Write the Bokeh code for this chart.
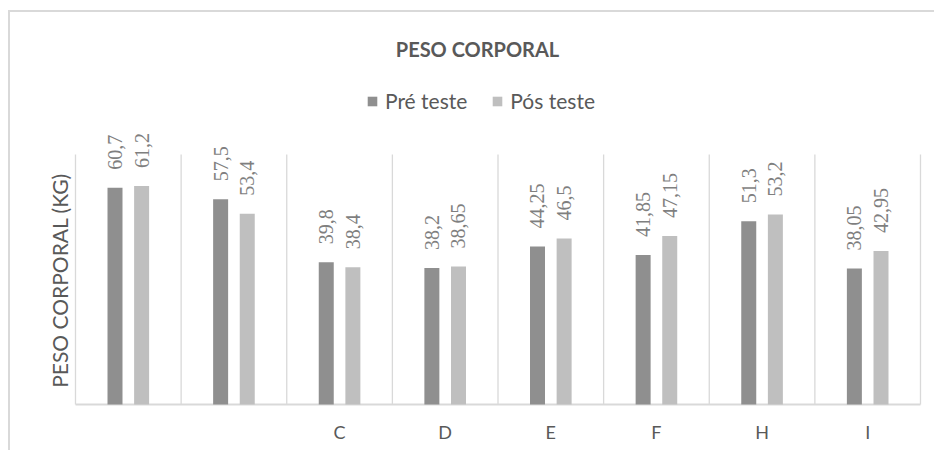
import numpy as np
from bokeh.plotting import figure
from bokeh.models import ColumnDataSource, FixedTicker, LabelSet, Label, Legend, LegendItem, Range1d
from bokeh.embed import file_html
from bokeh.resources import INLINE

# ---- data ----
categories = ["A", "B", "C", "D", "E", "F", "H", "I"]
tick_labels = ["", "", "C", "D", "E", "F", "H", "I"]
pre_teste = [60.7, 57.5, 39.8, 38.2, 44.25, 41.85, 51.3, 38.05]
pos_teste = [61.2, 53.4, 38.4, 38.65, 46.5, 47.15, 53.2, 42.95]
series_names = ["Pré teste", "Pós teste"]
title_text = "PESO CORPORAL"
y_title = "PESO CORPORAL (KG)"
y_max = 70

FONT = "Lato"
C_PRE = "#8f8f8f"
C_POS = "#bfbfbf"
C_TEXT = "#595959"
C_LABEL = "#7f7f7f"
C_GRID = "#d9d9d9"

# ---- layout (pixels) ----
W, H = 926, 440          # canvas size (after 8/10px page offset + 2px border)
BOTTOM = 46              # space for category labels
PLOT_L, PLOT_R = 65, 910 # value-area edges inside the canvas
PLOT_H = 250             # value-area height (0..y_max)
n = len(categories)
ppx = (PLOT_R - PLOT_L) / n
ppy = PLOT_H / y_max
frame_h = H - BOTTOM
x0 = -PLOT_L / ppx
x1 = n + (W - PLOT_R) / ppx
y0 = -2 / ppy
y1 = y0 + frame_h / ppy

centers = np.arange(n) + 0.5
off = 0.126
bw = 0.142

def fmt(v):
    return ("%g" % v).replace(".", ",")

src = ColumnDataSource(dict(
    x_pre=centers - off, x_pos=centers + off,
    pre=pre_teste, pos=pos_teste,
    pre_lab=[fmt(v) for v in pre_teste], pos_lab=[fmt(v) for v in pos_teste],
))

p = figure(width=W, height=H, output_backend="svg", toolbar_location=None,
           x_range=Range1d(x0, x1), y_range=Range1d(y0, y1),
           min_border_left=0, min_border_right=0, min_border_top=0, min_border_bottom=BOTTOM)
p.margin = (10, 0, 0, 8)
p.styles = {"border-top": "2px solid #d9d9d9", "border-left": "2px solid #d9d9d9"}
p.outline_line_color = None
p.background_fill_color = "white"
p.border_fill_color = "white"
p.xgrid.grid_line_color = None
p.ygrid.grid_line_color = None

# vertical grid at category boundaries, baseline
bounds = np.arange(n + 1)
p.segment(x0=bounds, x1=bounds, y0=[0] * (n + 1), y1=[y_max] * (n + 1),
          line_color=C_GRID, line_width=1.3)
p.segment(x0=[0], x1=[n], y0=[0], y1=[0], line_color=C_GRID, line_width=2)

r_pre = p.vbar(x="x_pre", top="pre", width=bw, source=src, fill_color=C_PRE, line_color=None)
r_pos = p.vbar(x="x_pos", top="pos", width=bw, source=src, fill_color=C_POS, line_color=None)

for col, ycol, lab in (("x_pre", "pre", "pre_lab"), ("x_pos", "pos", "pos_lab")):
    p.add_layout(LabelSet(x=col, y=ycol, text=lab, source=src, angle=np.pi / 2,
                          text_align="left", text_baseline="middle", y_offset=18,
                          text_font=FONT, text_font_size="20px", text_color=C_LABEL))

# x axis: category labels only
p.xaxis.ticker = FixedTicker(ticks=list(centers))
p.xaxis.major_label_overrides = {float(c): t for c, t in zip(centers, tick_labels)}
p.xaxis.axis_line_color = None
p.xaxis.major_tick_line_color = None
p.xaxis.minor_tick_line_color = None
p.xaxis.major_tick_out = 0
p.xaxis.major_label_standoff = 14
p.xaxis.major_label_text_font = FONT
p.xaxis.major_label_text_font_size = "18px"
p.xaxis.major_label_text_color = C_TEXT
p.yaxis.visible = False

# y-axis title
p.add_layout(Label(x=49, y=126, x_units="screen", y_units="screen", text=y_title,
                   angle=np.pi / 2, text_align="center", text_baseline="middle",
                   text_font=FONT, text_font_size="21px", text_color=C_TEXT))

# chart title
p.add_layout(Label(x=467, y=358, x_units="screen", y_units="screen", text=title_text,
                   text_align="center", text_baseline="middle", text_font=FONT,
                   text_font_size="20px", text_font_style="bold", text_color=C_TEXT))

legend = Legend(items=[LegendItem(label=series_names[0], renderers=[r_pre]),
                       LegendItem(label=series_names[1], renderers=[r_pos])],
                location=(356, 293), orientation="horizontal",
                glyph_width=12, glyph_height=12, label_standoff=7, spacing=24,
                padding=0, margin=0, border_line_color=None, background_fill_alpha=0,
                label_text_font=FONT, label_text_font_size="21px", label_text_color=C_TEXT)
p.add_layout(legend)

open("out.html", "w").write(file_html(p, INLINE))
